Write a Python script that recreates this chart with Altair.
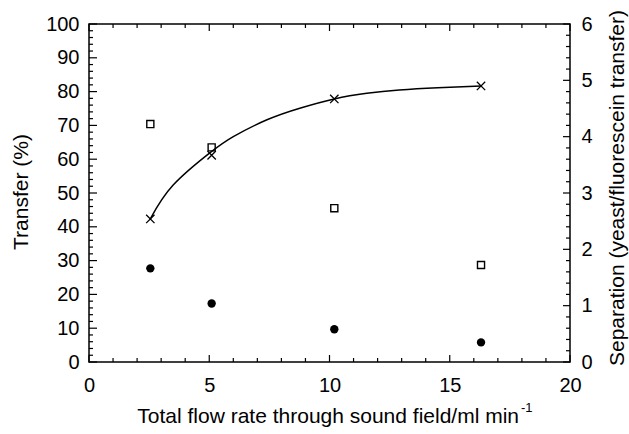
import altair as alt
import pandas as pd

# ---- data ----
flow = [2.55, 5.1, 10.2, 16.3]
transfer_open = [70.4, 63.5, 45.5, 28.7]      # open squares (left axis)
transfer_filled = [27.7, 17.3, 9.7, 5.8]      # filled circles (left axis)
separation = [2.54, 3.67, 4.67, 4.90]         # crosses (right axis)

curve_x = [2.55, 3.5, 5.05, 6.0, 7.4, 8.8, 10.2, 11.55, 12.9, 14.5, 16.3]
curve_y = [2.54, 3.14, 3.72, 4.00, 4.30, 4.51, 4.67, 4.77, 4.83, 4.87, 4.90]

x_labels = [0, 5, 10, 15, 20]
x_minor = [v for v in range(0, 21) if v % 5 != 0]
yl_labels = list(range(0, 101, 10))
yl_minor = [v for v in range(0, 101, 2) if v % 10 != 0]
yr_labels = [0, 1, 2, 3, 4, 5, 6]
yr_minor = [round(i * 0.2, 1) for i in range(0, 31) if i % 5 != 0]

W, H = 481, 338
FONT = "Liberation Sans"

df = pd.DataFrame({"flow": flow, "open": transfer_open,
                   "filled": transfer_filled, "sep": separation})
curve = pd.DataFrame({"cx": curve_x, "cy": curve_y})

xscale = alt.Scale(domain=[0, 20], nice=False, zero=False)
ylscale = alt.Scale(domain=[0, 100], nice=False)
yrscale = alt.Scale(domain=[0, 6], nice=False)

x_axis = alt.Axis(values=x_labels, ticks=False, domain=False, grid=False,
                  labelPadding=13, title=None, labelFlush=False)
yl_axis = alt.Axis(values=yl_labels, ticks=False, domain=False, grid=False,
                   labelPadding=10, title=None, orient="left")
yr_axis = alt.Axis(values=yr_labels, ticks=False, domain=False, grid=False,
                   labelPadding=11, title=None, orient="right")


def X(field):
    return alt.X(f"{field}:Q", scale=xscale, axis=x_axis)


def YL(field):
    return alt.Y(f"{field}:Q", scale=ylscale, axis=yl_axis)


def YR(field):
    return alt.Y(f"{field}:Q", scale=yrscale, axis=yr_axis)


squares = alt.Chart(df).mark_point(shape="square", filled=False, color="black",
                                   size=50, strokeWidth=1.4, opacity=1).encode(
    x=X("flow"), y=YL("open"))
circles = alt.Chart(df).mark_point(shape="circle", filled=True, color="black",
                                   size=70, opacity=1).encode(
    x=X("flow"), y=YL("filled"))


def tick_rules(values, field, kind, length):
    d = pd.DataFrame({field: values})
    m = alt.Chart(d).mark_rule(color="black", strokeWidth=1.2)
    if kind == "bottom":
        return m.encode(x=X(field), y=alt.value(H), y2=alt.value(H - length))
    if kind == "top":
        return m.encode(x=X(field), y=alt.value(0), y2=alt.value(length))
    if kind == "left":
        return m.encode(y=YL(field), x=alt.value(0), x2=alt.value(length))
    return m.encode(y=YR(field), x=alt.value(W), x2=alt.value(W - length))


left_group = alt.layer(
    squares, circles,
    tick_rules(x_labels, "xb", "bottom", 7),
    tick_rules(x_minor, "xbm", "bottom", 4),
    tick_rules(x_labels, "xt", "top", 7),
    tick_rules(x_minor, "xtm", "top", 4),
    tick_rules(yl_labels, "yl", "left", 8),
    tick_rules(yl_minor, "ylm", "left", 4),
)

line = alt.Chart(curve).mark_line(color="black", strokeWidth=1.5,
                                  interpolate="natural").encode(
    x=X("cx"), y=YR("cy"))
crosses = alt.Chart(df).mark_point(shape="M-1,-1L1,1M-1,1L1,-1", filled=False,
                                   color="black", size=70, strokeWidth=1.3,
                                   opacity=1).encode(
    x=X("flow"), y=YR("sep"))

right_group = alt.layer(
    line, crosses,
    tick_rules(yr_labels, "yr", "right", 7),
    tick_rules(yr_minor, "yrm", "right", 4),
)

blank = alt.Data(values=[{}])
titles = alt.layer(
    alt.Chart(blank).mark_text(text="Transfer (%)", angle=270, fontSize=21,
                               font=FONT, align="center", baseline="middle",
                               color="black").encode(
        x=alt.value(-67), y=alt.value(168)),
    alt.Chart(blank).mark_text(text="Separation (yeast/fluorescein transfer)",
                               angle=270, fontSize=21, font=FONT,
                               align="center", baseline="middle",
                               color="black").encode(
        x=alt.value(W + 48), y=alt.value(164)),
    alt.Chart(blank).mark_text(text="Total flow rate through sound field/ml min",
                               fontSize=21, font=FONT, align="right",
                               baseline="alphabetic", color="black").encode(
        x=alt.value(430), y=alt.value(399)),
    alt.Chart(blank).mark_text(text="-1", fontSize=13, font=FONT, align="left",
                               baseline="alphabetic", color="black").encode(
        x=alt.value(432), y=alt.value(388)),
)

chart = alt.layer(left_group, right_group, titles).resolve_scale(
    y="independent"
).properties(
    width=W, height=H,
    autosize=alt.AutoSizeParams(type="none"),
    padding={"left": 89, "top": 24, "right": 59, "bottom": 72},
    background="white",
).configure_view(
    stroke="black", strokeWidth=1.5
).configure_axis(
    labelFont=FONT, labelFontSize=20, labelColor="black"
)

chart.save("out.html", embed_options={"renderer": "svg", "actions": False})
